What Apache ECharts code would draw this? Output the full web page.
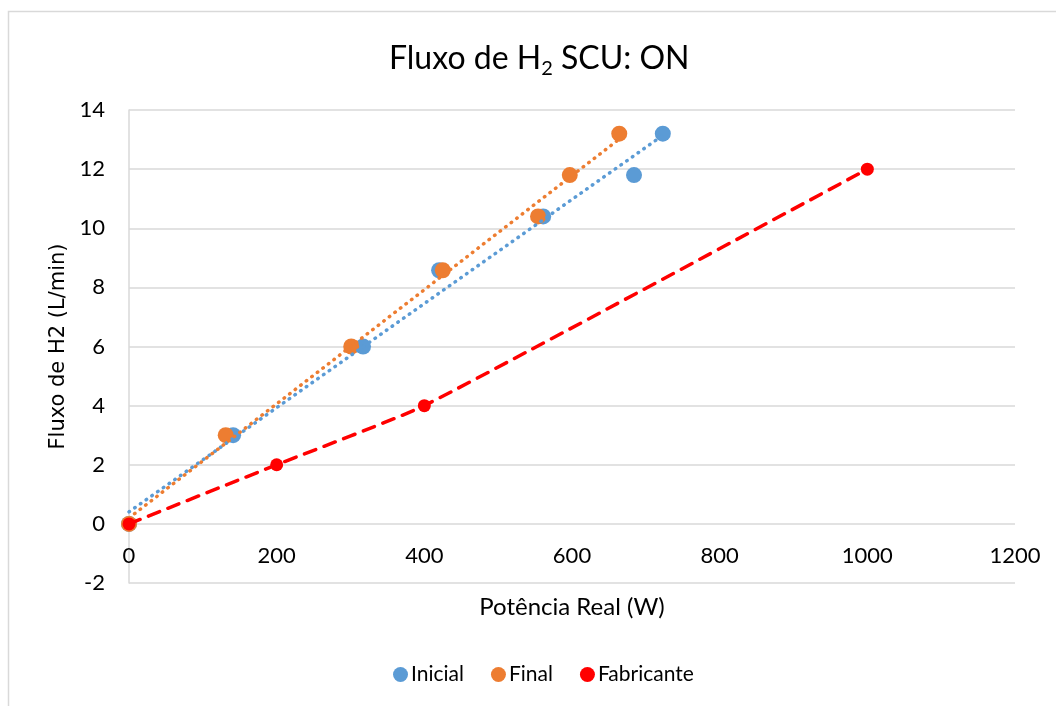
<!DOCTYPE html>
<html>
<head>
<meta charset="utf-8">
<title>Fluxo de H2 SCU: ON</title>
<script src="https://cdn.jsdelivr.net/npm/echarts@6/dist/echarts.min.js"></script>
<style>
  html, body { margin: 0; padding: 0; background: #ffffff; }
  #chart { width: 1056px; height: 706px; }
</style>
</head>
<body>
<div id="chart"></div>
<script>
// Measured points: real power (W) vs. H2 flow (L/min)
const inicialX = [0, 141, 317, 420, 561, 684, 723];
const inicialY = [0, 3, 6, 8.58, 10.4, 11.8, 13.2];
const finalX = [0, 131, 301, 425, 554, 597, 664];
const finalY = [0, 3, 6, 8.58, 10.4, 11.8, 13.2];
// Manufacturer reference curve
const fabricanteX = [0, 200, 400, 1000];
const fabricanteY = [0, 2, 4, 12];

const xTicks = [0, 200, 400, 600, 800, 1000, 1200];
const yTicks = [-2, 0, 2, 4, 6, 8, 10, 12, 14];

const BLUE = '#5B9BD5';
const ORANGE = '#ED7D31';
const RED = '#FF0000';
const GRID = '#d9d9d9';
const FONT = 'Lato, "Open Sans", sans-serif';

function pairs(xs, ys) { return xs.map((x, i) => [x, ys[i]]); }

// Least-squares linear trendline, drawn from x = 0 to the last measured x
function trend(xs, ys) {
  const n = xs.length;
  let sx = 0, sy = 0, sxx = 0, sxy = 0;
  for (let i = 0; i < n; i++) { sx += xs[i]; sy += ys[i]; sxx += xs[i] * xs[i]; sxy += xs[i] * ys[i]; }
  const b = (n * sxy - sx * sy) / (n * sxx - sx * sx);
  const a = (sy - b * sx) / n;
  const x1 = Math.max.apply(null, xs);
  return [[0, a], [x1, a + b * x1]];
}

const chart = echarts.init(document.getElementById('chart'), null, { renderer: 'canvas' });

// Plot height in px and the offset that lifts the x axis labels onto y = 0
const gridTop = 110, gridBottom = 123;
const plotH = 706 - gridTop - gridBottom;
const zeroLift = plotH * (0 - yTicks[0]) / (yTicks[yTicks.length - 1] - yTicks[0]);

chart.setOption({
  backgroundColor: '#ffffff',
  animation: false,
  graphic: [{
    type: 'rect',
    shape: { x: 8.5, y: 11.5, width: 1100, height: 800 },
    style: { fill: 'none', stroke: GRID, lineWidth: 1.5 },
    z: -1
  }],
  title: {
    text: '{t|Fluxo de H}{s|2}{t| SCU: ON}',
    left: 384,
    top: 34,
    textStyle: {
      fontWeight: 'normal',
      rich: {
        t: { fontFamily: FONT, fontSize: 32, fontWeight: 'normal', color: '#000000' },
        s: { fontFamily: FONT, fontSize: 20, fontWeight: 'normal', color: '#000000', padding: [20, 0, 0, 0] }
      }
    }
  },
  legend: {
    bottom: 16,
    left: 388,
    itemGap: 27,
    itemWidth: 15,
    itemHeight: 15,
    textStyle: { fontFamily: FONT, fontSize: 21, color: '#000000', padding: [0, 0, 0, -2] },
    data: [
      { name: 'Inicial', icon: 'circle' },
      { name: 'Final', icon: 'circle' },
      { name: 'Fabricante', icon: 'circle' }
    ]
  },
  grid: { left: 129, right: 41, top: gridTop, bottom: gridBottom, containLabel: false },
  xAxis: {
    type: 'value',
    min: xTicks[0],
    max: xTicks[xTicks.length - 1],
    interval: 200,
    offset: -zeroLift,
    name: 'Potência Real (W)',
    nameLocation: 'middle',
    nameGap: 71,
    nameTextStyle: { fontFamily: FONT, fontSize: 24, color: '#000000' },
    axisLine: { show: false },
    axisTick: { show: false },
    axisLabel: { margin: 21, fontFamily: FONT, fontSize: 22, color: '#000000', formatter: v => String(v) },
    splitLine: { show: false }
  },
  yAxis: {
    type: 'value',
    min: yTicks[0],
    max: yTicks[yTicks.length - 1],
    interval: 2,
    name: 'Fluxo de H2 (L/min)',
    nameLocation: 'middle',
    nameGap: 55,
    nameTextStyle: { fontFamily: '"DejaVu Sans", Verdana, sans-serif', fontSize: 21, color: '#000000' },
    axisLine: { show: true, onZero: false, lineStyle: { color: GRID, width: 1.5 } },
    axisTick: { show: false },
    axisLabel: { margin: 24, fontFamily: FONT, fontSize: 22, color: '#000000' },
    splitLine: { show: true, lineStyle: { color: GRID, width: 1.5 } }
  },
  series: [
    {
      name: 'Inicial',
      type: 'scatter',
      symbol: 'circle',
      symbolSize: 16,
      itemStyle: { color: BLUE, opacity: 1 },
      data: pairs(inicialX, inicialY),
      z: 2
    },
    {
      name: 'Final',
      type: 'scatter',
      symbol: 'circle',
      symbolSize: 16,
      itemStyle: { color: ORANGE, opacity: 1 },
      data: pairs(finalX, finalY),
      z: 3
    },
    {
      name: 'Tendência Inicial',
      type: 'line',
      showSymbol: false,
      silent: true,
      lineStyle: { color: BLUE, width: 3.5, type: [0.5, 6.5], cap: 'round' },
      data: trend(inicialX, inicialY),
      z: 4
    },
    {
      name: 'Tendência Final',
      type: 'line',
      showSymbol: false,
      silent: true,
      lineStyle: { color: ORANGE, width: 3.5, type: [0.5, 6.5], cap: 'round' },
      data: trend(finalX, finalY),
      z: 4
    },
    {
      name: 'Fabricante',
      type: 'line',
      smooth: 0.15,
      symbol: 'circle',
      symbolSize: 13,
      showAllSymbol: true,
      itemStyle: { color: RED },
      lineStyle: { color: RED, width: 3.5, type: [12, 9], cap: 'round' },
      data: pairs(fabricanteX, fabricanteY),
      z: 5
    }
  ]
});
</script>
</body>
</html>
